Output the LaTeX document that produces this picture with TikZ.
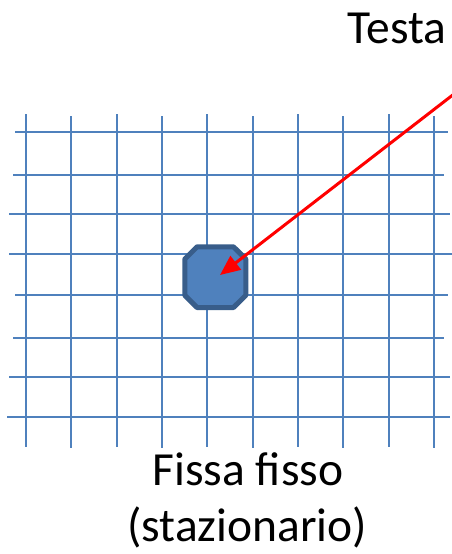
\documentclass[tikz,border=0pt]{standalone}
\usepackage{fontspec}
\setmainfont{Carlito}
\usetikzlibrary{arrows.meta}
\definecolor{gridblue}{HTML}{4F81BD}
\definecolor{darkblue}{HTML}{385D8A}
\begin{document}
\begin{tikzpicture}[x=1pt,y=-1pt,
  gridline/.style={draw=gridblue,line width=2pt},
  lbl/.style={font=\fontsize{47.5}{56}\selectfont,anchor=base,inner sep=0pt,text=black},
  redarrow/.style={draw=red,line width=3pt,-{Triangle[length=20pt,width=17pt]}}]
\useasboundingbox (0,0) rectangle (452,554);
% vertical lines
\foreach \x/\a/\b in {26/114/447,71.3/116/448,116.7/114/447,162/116/448,207.3/114/447,252.7/116/448,298/114/447,343.3/116/448,388.7/114/447,434.3/116/448}
  \draw[gridline] (\x,\a) -- (\x,\b);
% horizontal lines
\foreach \y/\a/\b in {131.7/15/447.7,174.7/13/444,214/9.3/450,253.7/9.3/451.7,295/15/447.7,338.3/13/444,377.3/9.3/450,416.7/7.3/450}
  \draw[gridline] (\a,\y) -- (\b,\y);
% octagon
\draw[fill=gridblue,draw=darkblue,line width=5pt,line join=round]
  (197,246.8) -- (233.5,246.8) -- (245.8,259) -- (245.8,295.3) -- (233.5,307.5)
  -- (197,307.5) -- (184.8,295.3) -- (184.8,259) -- cycle;
\coordinate (tip) at (220,275);
\coordinate (start) at (454,94);
\draw[redarrow] (start) -- (tip);
% labels
\node[lbl] (testa) at (397,43.3) {Testa};
\node[lbl] (fissa) at (248,485) {Fissa fisso};
\node[lbl] (staz) at (247.2,541.7) {(stazionario)};
\end{tikzpicture}
\end{document}
